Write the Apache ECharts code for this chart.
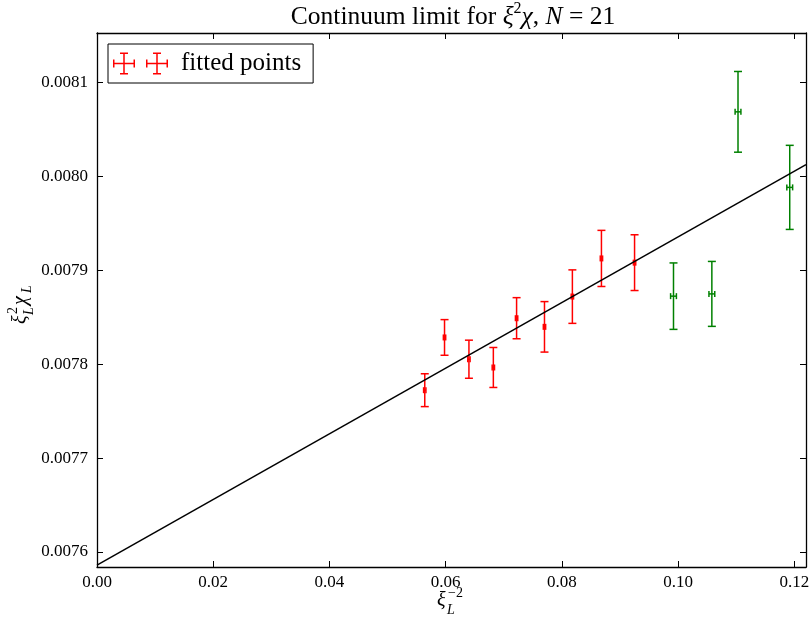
<!DOCTYPE html>
<html>
<head>
<meta charset="utf-8">
<script src="https://cdn.jsdelivr.net/npm/echarts@6/dist/echarts.min.js"></script>
<style>
  html, body { margin: 0; padding: 0; background: #fff; }
  #chart { width: 811px; height: 620px; }
</style>
</head>
<body>
<div id="chart"></div>
<script>
// Points used in the fit (red)
const fitX    = [0.0564, 0.0598, 0.0640, 0.0682, 0.0722, 0.0770, 0.0818, 0.0868, 0.0925];
const fitY    = [0.0077724, 0.0078286, 0.0078054, 0.0077966, 0.0078491, 0.0078399, 0.0078721, 0.0079128, 0.0079083];
const fitXErr = [0.0002, 0.0002, 0.0002, 0.0002, 0.0002, 0.0002, 0.0002, 0.0002, 0.0002];
const fitYErr = [0.0000175, 0.0000190, 0.0000203, 0.0000213, 0.0000219, 0.0000269, 0.0000285, 0.0000299, 0.0000297];

// Points left out of the fit (green)
const otherX    = [0.0992, 0.1058, 0.1103, 0.1192];
const otherY    = [0.0078726, 0.0078750, 0.0080690, 0.0079885];
const otherXErr = [0.0005, 0.0005, 0.0005, 0.0005];
const otherYErr = [0.0000354, 0.0000346, 0.0000430, 0.0000448];

// Linear fit, evaluated at the ends of the x range
const lineX = [0, 0.122];
const lineY = [0.007586, 0.0080128];

// Axis ticks
const xTicks = [0.00, 0.02, 0.04, 0.06, 0.08, 0.10, 0.12];
const yTicks = [0.0076, 0.0077, 0.0078, 0.0079, 0.0080, 0.0081];

const X_MIN = 0, X_MAX = 0.122;
const Y_MIN = 0.007584, Y_MAX = 0.008153;

const FONT = '"Liberation Serif", "DejaVu Serif", serif';
const RED = '#ff0000';
const GREEN = '#008000';

function errorRenderer(color) {
  return function (params, api) {
    const x = api.value(0), y = api.value(1), ex = api.value(2), ey = api.value(3);
    const top = api.coord([x, y + ey]);
    const bot = api.coord([x, y - ey]);
    const lft = api.coord([x - ex, y]);
    const rgt = api.coord([x + ex, y]);
    const cap = 4;
    const st = { stroke: color, lineWidth: 1.5, fill: null };
    const seg = (x1, y1, x2, y2) => ({ type: 'line', shape: { x1, y1, x2, y2 }, style: st });
    return {
      type: 'group',
      children: [
        seg(top[0], top[1], bot[0], bot[1]),
        seg(top[0] - cap, top[1], top[0] + cap, top[1]),
        seg(bot[0] - cap, bot[1], bot[0] + cap, bot[1]),
        seg(lft[0], lft[1], rgt[0], rgt[1]),
        seg(lft[0], lft[1] - 3, lft[0], lft[1] + 3),
        seg(rgt[0], rgt[1] - 3, rgt[0], rgt[1] + 3)
      ]
    };
  };
}

// Legend glyph: two error-bar crosses side by side
function crossPath(cx) {
  return `M${cx - 0.75} 0h1.5v22h-1.5Z` +
         `M${cx - 4} 0h8v1.5h-8Z` +
         `M${cx - 4} 20.5h8v1.5h-8Z` +
         `M${cx - 11} 10.25h22v1.5h-22Z` +
         `M${cx - 11} 7h1.5v8h-1.5Z` +
         `M${cx + 9.5} 7h1.5v8h-1.5Z`;
}
const legendIcon = 'path://' + crossPath(11) + crossPath(44);

const tickStyle = { show: true, inside: true, length: 6, lineStyle: { color: '#000', width: 1 } };
const axisCommon = {
  type: 'value',
  axisLine: { show: true, onZero: false, lineStyle: { color: '#000', width: 1.3 } },
  splitLine: { show: false }
};

const chart = echarts.init(document.getElementById('chart'), null, { renderer: 'canvas' });

chart.setOption({
  animation: false,
  backgroundColor: '#fff',
  grid: { left: 97, right: 5, top: 33, bottom: 53, containLabel: false, outerBoundsMode: 'none' },
  xAxis: [
    Object.assign({}, axisCommon, {
      position: 'bottom', min: X_MIN, max: X_MAX,
      axisTick: Object.assign({}, tickStyle, { customValues: xTicks }),
      axisLabel: {
        show: true, margin: 7, color: '#000', fontFamily: FONT, fontSize: 17,
        customValues: xTicks,
        formatter: v => v.toFixed(2)
      }
    }),
    Object.assign({}, axisCommon, {
      position: 'top', min: X_MIN, max: X_MAX,
      axisTick: Object.assign({}, tickStyle, { customValues: xTicks }),
      axisLabel: { show: false, customValues: xTicks }
    })
  ],
  yAxis: [
    Object.assign({}, axisCommon, {
      position: 'left', min: Y_MIN, max: Y_MAX,
      axisTick: Object.assign({}, tickStyle, { customValues: yTicks }),
      axisLabel: {
        show: true, margin: 9, color: '#000', fontFamily: FONT, fontSize: 17,
        customValues: yTicks,
        formatter: v => v.toFixed(4)
      }
    }),
    Object.assign({}, axisCommon, {
      position: 'right', min: Y_MIN, max: Y_MAX,
      axisTick: Object.assign({}, tickStyle, { customValues: yTicks }),
      axisLabel: { show: false, customValues: yTicks }
    })
  ],
  legend: {
    left: 108, top: 44,
    orient: 'horizontal',
    padding: [7, 12, 7, 5],
    borderColor: '#000', borderWidth: 1, borderRadius: 0,
    backgroundColor: '#fff',
    itemWidth: 55, itemHeight: 22,
    selectedMode: false,
    textStyle: { color: '#000', fontFamily: FONT, fontSize: 25, padding: [0, 0, 0, 8] },
    data: [{ name: 'fitted points', icon: legendIcon, itemStyle: { color: RED } }]
  },
  series: [
    {
      name: 'fitted points',
      type: 'custom',
      xAxisIndex: 0, yAxisIndex: 0,
      itemStyle: { color: RED },
      renderItem: errorRenderer(RED),
      data: fitX.map((x, i) => [x, fitY[i], fitXErr[i], fitYErr[i]]),
      z: 3
    },
    {
      name: 'excluded points',
      type: 'custom',
      xAxisIndex: 0, yAxisIndex: 0,
      itemStyle: { color: GREEN },
      renderItem: errorRenderer(GREEN),
      data: otherX.map((x, i) => [x, otherY[i], otherXErr[i], otherYErr[i]]),
      z: 3
    },
    {
      name: 'fit',
      type: 'line',
      xAxisIndex: 0, yAxisIndex: 0,
      symbol: 'none',
      lineStyle: { color: '#000', width: 1.5 },
      data: lineX.map((x, i) => [x, lineY[i]]),
      z: 4
    }
  ],
  graphic: [
    {
      type: 'text', x: 453, y: 17, z: 10,
      style: {
        text: '{n|Continuum limit for }{i|ξ}{s|2}{i|χ}{n|, }{i|N}{n| = 21}',
        align: 'center', verticalAlign: 'middle',
        rich: {
          n: { fontFamily: FONT, fontSize: 25.5, lineHeight: 33, fill: '#000' },
          i: { fontFamily: FONT, fontSize: 25.5, lineHeight: 33, fontStyle: 'italic', fill: '#000' },
          s: { fontFamily: FONT, fontSize: 16, lineHeight: 18, verticalAlign: 'top', fill: '#000' }
        }
      }
    },
    {
      type: 'group', x: 451, y: 601, z: 10,
      children: [
        { type: 'text', x: -14, y: 0, style: { text: 'ξ', font: 'italic 20px ' + FONT, fill: '#000', align: 'left', verticalAlign: 'middle' } },
        { type: 'text', x: -3, y: -8, style: { text: '−2', font: '14px ' + FONT, fill: '#000', align: 'left', verticalAlign: 'middle' } },
        { type: 'text', x: -4, y: 9, style: { text: 'L', font: 'italic 14px ' + FONT, fill: '#000', align: 'left', verticalAlign: 'middle' } }
      ]
    },
    {
      type: 'group', x: 21, y: 300, rotation: Math.PI / 2, z: 10,
      children: [
        { type: 'text', x: -24, y: 0, style: { text: 'ξ', font: 'italic 20px ' + FONT, fill: '#000', align: 'left', verticalAlign: 'middle' } },
        { type: 'text', x: -14, y: -8, style: { text: '2', font: '14px ' + FONT, fill: '#000', align: 'left', verticalAlign: 'middle' } },
        { type: 'text', x: -15, y: 8, style: { text: 'L', font: 'italic 14px ' + FONT, fill: '#000', align: 'left', verticalAlign: 'middle' } },
        { type: 'text', x: -5, y: 0, style: { text: 'χ', font: 'italic 20px ' + FONT, fill: '#000', align: 'left', verticalAlign: 'middle' } },
        { type: 'text', x: 7, y: 6, style: { text: 'L', font: 'italic 14px ' + FONT, fill: '#000', align: 'left', verticalAlign: 'middle' } }
      ]
    }
  ]
});
</script>
</body>
</html>
